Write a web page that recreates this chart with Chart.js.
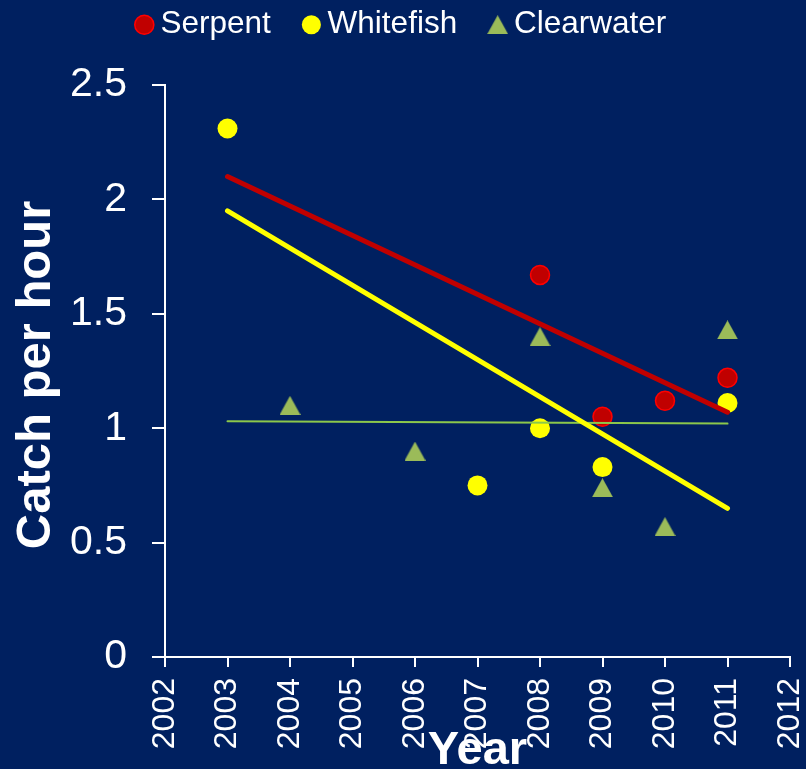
<!DOCTYPE html>
<html lang="en">
<head>
<meta charset="UTF-8">
<title>Catch per hour</title>
<style>
  html, body { margin: 0; padding: 0; background: #002060; }
  #wrap { width: 806px; height: 769px; }
</style>
</head>
<body>

<div id="wrap"><canvas id="chart" width="806" height="769"></canvas></div>

<script src="https://cdn.jsdelivr.net/npm/chart.js"></script>
<script>
  // catch per hour
  const serpentYears = [2008, 2009, 2010, 2011];
  const serpentCatch = [1.67, 1.05, 1.12, 1.22];
  const whitefishYears = [2003, 2007, 2008, 2009, 2011];
  const whitefishCatch = [2.31, 0.75, 1.00, 0.83, 1.11];
  const clearwaterYears = [2004, 2006, 2008, 2009, 2010, 2011];
  const clearwaterCatch = [1.10, 0.90, 1.40, 0.74, 0.57, 1.43];

  // linear trend lines, value at first and last year
  const trendYears = [2003, 2011];
  const serpentTrend = [2.10, 1.07];
  const whitefishTrend = [1.95, 0.65];
  const clearwaterTrend = [1.03, 1.02];

  const yearTicks = [2002, 2003, 2004, 2005, 2006, 2007, 2008, 2009, 2010, 2011, 2012];
  const catchTicks = [0, 0.5, 1, 1.5, 2, 2.5];

  const toPoints = (xs, ys) => xs.map((x, i) => ({ x: x, y: ys[i] }));

  // excel style triangle, centred on its box
  function triangleMarker(color) {
    const c = document.createElement('canvas');
    c.width = 21;
    c.height = 19;
    const g = c.getContext('2d');
    g.fillStyle = color;
    g.beginPath();
    g.moveTo(10.5, 0);
    g.lineTo(21, 19);
    g.lineTo(0, 19);
    g.closePath();
    g.fill();
    return c;
  }

  Chart.defaults.font.family = '"Liberation Sans", Arial, sans-serif';
  Chart.defaults.color = '#ffffff';

  const background = {
    id: 'background',
    beforeDraw(chart) {
      const ctx = chart.ctx;
      ctx.save();
      ctx.fillStyle = '#002060';
      ctx.fillRect(0, 0, chart.width, chart.height);
      ctx.restore();
    }
  };

  // keep the plot top clear of the legend, nudge the row a bit right
  const legendSpace = {
    id: 'legendSpace',
    beforeInit(chart) {
      const fit = chart.legend.fit;
      chart.legend.fit = function () {
        fit.bind(chart.legend)();
        this.height = 116;
        if (this.lineWidths && this.lineWidths.length) this.lineWidths[0] -= 20;
      };
    }
  };

  const axisTitles = {
    id: 'axisTitles',
    afterDraw(chart) {
      const ctx = chart.ctx;
      const area = chart.chartArea;
      ctx.save();
      ctx.fillStyle = '#ffffff';
      ctx.textAlign = 'center';
      ctx.textBaseline = 'alphabetic';
      ctx.font = 'bold 47px "Liberation Sans", Arial, sans-serif';
      ctx.fillText('Year', (area.left + area.right) / 2, chart.height - 5);
      ctx.font = 'bold 49px "Liberation Sans", Arial, sans-serif';
      ctx.translate(50, (area.top + area.bottom) / 2 + 4);
      ctx.rotate(-Math.PI / 2);
      ctx.fillText('Catch per hour', 0, 0);
      ctx.restore();
    }
  };

  const trendStyle = {
    showLine: true,
    pointRadius: 0,
    pointHoverRadius: 0,
    borderCapStyle: 'round'
  };

  new Chart(document.getElementById('chart'), {
    type: 'scatter',
    data: {
      datasets: [
        {
          label: 'Serpent',
          data: toPoints(serpentYears, serpentCatch),
          pointStyle: 'circle',
          pointRadius: 9.5,
          backgroundColor: '#C00000',
          borderColor: '#FF0000',
          borderWidth: 1.5,
          order: 3
        },
        {
          label: 'Whitefish',
          data: toPoints(whitefishYears, whitefishCatch),
          pointStyle: 'circle',
          pointRadius: 10,
          backgroundColor: '#FFFF00',
          borderColor: '#FFFF00',
          borderWidth: 0,
          order: 4
        },
        {
          label: 'Clearwater',
          data: toPoints(clearwaterYears, clearwaterCatch),
          pointStyle: triangleMarker('#9BBB59'),
          backgroundColor: '#9BBB59',
          borderColor: '#9BBB59',
          borderWidth: 0,
          order: 5
        },
        Object.assign({
          label: 'Serpent trend',
          data: toPoints(trendYears, serpentTrend),
          borderColor: '#C00000',
          borderWidth: 5,
          order: 1
        }, trendStyle),
        Object.assign({
          label: 'Whitefish trend',
          data: toPoints(trendYears, whitefishTrend),
          borderColor: '#FFFF00',
          borderWidth: 5,
          order: 0
        }, trendStyle),
        Object.assign({
          label: 'Clearwater trend',
          data: toPoints(trendYears, clearwaterTrend),
          borderColor: '#8CC84B',
          borderWidth: 2,
          order: 2
        }, trendStyle)
      ]
    },
    options: {
      responsive: false,
      animation: false,
      devicePixelRatio: 1,
      layout: { padding: { top: -31, right: 16, bottom: 0, left: 0 } },
      plugins: {
        tooltip: { enabled: false },
        legend: {
          position: 'top',
          labels: {
            usePointStyle: true,
            boxWidth: 1,
            boxHeight: 13.5,
            padding: 40,
            color: '#ffffff',
            font: { size: 31.5 },
            filter: item => item.datasetIndex < 3
          }
        }
      },
      scales: {
        x: {
          type: 'linear',
          min: 2002,
          max: 2012,
          afterBuildTicks: scale => { scale.ticks = yearTicks.map(v => ({ value: v })); },
          afterFit: scale => {
            scale.height = 112;
            scale.paddingLeft = 0;
            scale.paddingRight = 0;
          },
          ticks: {
            minRotation: 90,
            maxRotation: 90,
            padding: 11,
            color: '#ffffff',
            font: { size: 32 },
            callback: v => String(v)
          },
          grid: {
            drawOnChartArea: false,
            drawTicks: true,
            tickLength: 10,
            color: '#ffffff',
            lineWidth: 2
          },
          border: { color: '#ffffff', width: 2 }
        },
        y: {
          min: 0,
          max: 2.5,
          afterBuildTicks: scale => { scale.ticks = catchTicks.map(v => ({ value: v })); },
          afterFit: scale => { scale.width = 165; },
          ticks: {
            padding: 25,
            color: '#ffffff',
            font: { size: 41 },
            callback: v => String(v)
          },
          grid: {
            drawOnChartArea: false,
            drawTicks: true,
            tickLength: 13,
            color: '#ffffff',
            lineWidth: 2
          },
          border: { color: '#ffffff', width: 2 }
        }
      }
    },
    plugins: [background, legendSpace, axisTitles]
  });
</script>

</body>
</html>
